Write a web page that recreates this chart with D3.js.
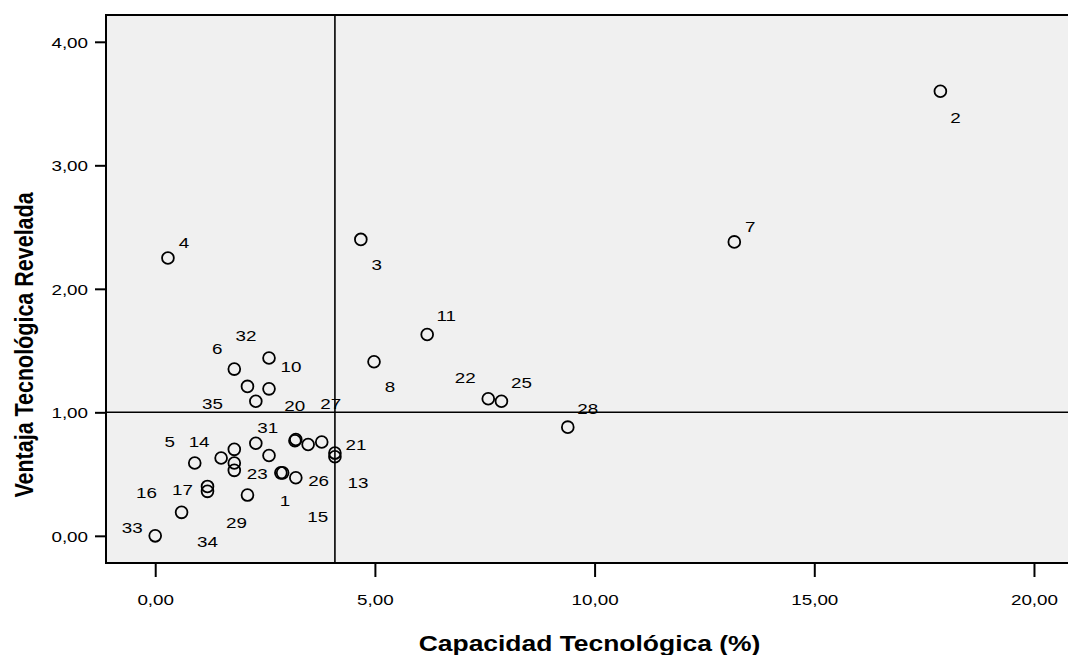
<!DOCTYPE html>
<html>
  <head>
    <meta charset="utf-8">
    <script src="https://d3js.org/d3.v7.min.js"></script>
    <title>Capacidad vs Ventaja Tecnológica</title>
    <style>
      body {
        margin: 0px;
        background: #fff;
      }
      svg {
        display: block;
      }
      text {
        font-family: "Liberation Sans", Arial, sans-serif;
        fill: #000;
      }
    </style>
  </head>
  <body>
    <svg width="1068" height="655"></svg>
    <script>
      // case numbers and the two variables
      const caseIds   = [1, 2, 3, 4, 5, 6, 7, 8, 9, 10, 11, 12, 13, 14, 15, 16, 17, 18,
                         19, 20, 21, 22, 23, 24, 25, 26, 27, 28, 29, 30, 31, 32, 33, 34, 35];
      const capacidad = [2.86, 17.87, 4.68, 0.29, 0.90, 1.80, 13.18, 4.98, 1.80, 2.59, 6.19, 1.80,
                         4.09, 1.50, 3.20, 0.60, 1.19, 2.59, 3.18, 2.29, 4.09, 7.58, 1.80, 3.20,
                         7.88, 2.90, 3.79, 9.39, 2.10, 3.48, 2.29, 2.59, 0.00, 1.19, 2.10];
      const ventaja   = [0.51, 3.60, 2.40, 2.25, 0.59, 1.35, 2.38, 1.41, 0.70, 1.19, 1.63, 0.59,
                         0.64, 0.63, 0.47, 0.19, 0.40, 0.65, 0.77, 1.09, 0.67, 1.11, 0.53, 0.78,
                         1.09, 0.51, 0.76, 0.88, 0.33, 0.74, 0.75, 1.44, 0.00, 0.36, 1.21];

      const xTicks = [0, 5, 10, 15, 20];
      const yTicks = [0, 1, 2, 3, 4];
      const xRef = 4.09;   // vertical reference line
      const yRef = 1.00;   // horizontal reference line

      const xLabel = 'Capacidad Tecnológica (%)';
      const yLabel = 'Ventaja Tecnológica Revelada';

      // where each case label sits relative to its marker (px); cases not listed have no label
      const labelOffsets = {
        1: [4, 28], 2: [15, 26], 3: [16, 25], 4: [16, -15], 5: [-25, -21], 6: [-17, -21],
        7: [16, -15], 8: [16, 25], 10: [22, -22], 11: [19, -19], 13: [23, 26], 14: [-22, -16],
        15: [22, 39], 16: [-35, -20], 17: [-25, 3], 20: [39, 4], 21: [21, -9], 22: [-23, -21],
        23: [23, 3], 25: [20, -19], 26: [36, 8], 27: [9, -38], 28: [20, -19], 29: [-11, 27],
        31: [12, -16], 32: [-23, -22], 33: [-23, -8], 34: [0, 50], 35: [-35, 17]
      };

      const data = caseIds.map((id, i) => ({ id, x: capacidad[i], y: ventaja[i] }));

      const svg = d3.select('svg');
      const S = 1.23;          // the original picture is stretched horizontally
      const fontSmall = 15.3;
      const fontTitle = 21.5;

      const plot = { left: 106, top: 15, right: 1070, bottom: 563 };

      const xScale = d3.scaleLinear()
        .domain([-1.12, 20.82])
        .range([plot.left, plot.right]);
      const yScale = d3.scaleLinear()
        .domain([-0.22, 4.217])
        .range([plot.bottom, plot.top]);

      const fmt = v => d3.format('.2f')(v).replace('.', ',');

      // plot area
      svg.append('rect')
        .attr('x', plot.left)
        .attr('y', plot.top)
        .attr('width', plot.right - plot.left + 6)
        .attr('height', plot.bottom - plot.top)
        .attr('fill', '#f0f0f0')
        .attr('stroke', '#000')
        .attr('stroke-width', 2);

      // reference lines
      svg.append('line')
        .attr('x1', xScale(xRef)).attr('x2', xScale(xRef))
        .attr('y1', plot.top).attr('y2', plot.bottom)
        .attr('stroke', '#000').attr('stroke-width', 1.6);
      svg.append('line')
        .attr('x1', plot.left).attr('x2', plot.right)
        .attr('y1', yScale(yRef)).attr('y2', yScale(yRef))
        .attr('stroke', '#000').attr('stroke-width', 1.6);

      // y axis
      const yAxis = d3.axisLeft(yScale)
        .tickValues(yTicks)
        .tickSize(11)
        .tickFormat(fmt);
      svg.append('g')
        .attr('transform', `translate(${plot.left},0)`)
        .call(yAxis)
        .call(g => g.select('.domain').remove())
        .call(g => g.selectAll('.tick line').attr('stroke', '#000').attr('stroke-width', 2))
        .call(g => g.selectAll('.tick text')
          .attr('font-size', fontSmall)
          .attr('font-family', '"Liberation Sans", Arial, sans-serif')
          .attr('x', -18 / S)
          .attr('dy', '0.36em')
          .attr('transform', `scale(${S},1)`));

      // x axis
      const xAxis = d3.axisBottom(xScale)
        .tickValues(xTicks)
        .tickSize(14)
        .tickFormat(fmt);
      svg.append('g')
        .attr('transform', `translate(0,${plot.bottom})`)
        .call(xAxis)
        .call(g => g.select('.domain').remove())
        .call(g => g.selectAll('.tick line').attr('stroke', '#000').attr('stroke-width', 2))
        .call(g => g.selectAll('.tick text')
          .attr('font-size', fontSmall)
          .attr('font-family', '"Liberation Sans", Arial, sans-serif')
          .attr('y', 42.5)
          .attr('dy', 0)
          .attr('transform', `scale(${S},1)`));

      // markers
      svg.append('g').selectAll('circle').data(data)
        .enter().append('circle')
          .attr('cx', d => xScale(d.x))
          .attr('cy', d => yScale(d.y))
          .attr('r', 5.9)
          .attr('fill', 'none')
          .attr('stroke', '#000')
          .attr('stroke-width', 1.8);

      // case labels
      svg.append('g').selectAll('g').data(data.filter(d => labelOffsets[d.id]))
        .enter().append('g')
          .attr('transform', d => {
            const [dx, dy] = labelOffsets[d.id];
            return `translate(${xScale(d.x) + dx},${yScale(d.y) + dy + 0.358 * fontSmall}) scale(${S},1)`;
          })
        .append('text')
          .attr('text-anchor', 'middle')
          .attr('font-size', fontSmall)
          .text(d => d.id);

      // axis titles
      svg.append('g')
        .attr('transform', `translate(589.5,651) scale(${S},1)`)
        .append('text')
          .attr('text-anchor', 'middle')
          .attr('font-size', fontTitle)
          .attr('font-weight', 'bold')
          .text(xLabel);
      svg.append('g')
        .attr('transform', `translate(33,345) scale(${S},1) rotate(-90)`)
        .append('text')
          .attr('text-anchor', 'middle')
          .attr('font-size', fontTitle)
          .attr('font-weight', 'bold')
          .text(yLabel);
    </script>
  </body>
</html>
